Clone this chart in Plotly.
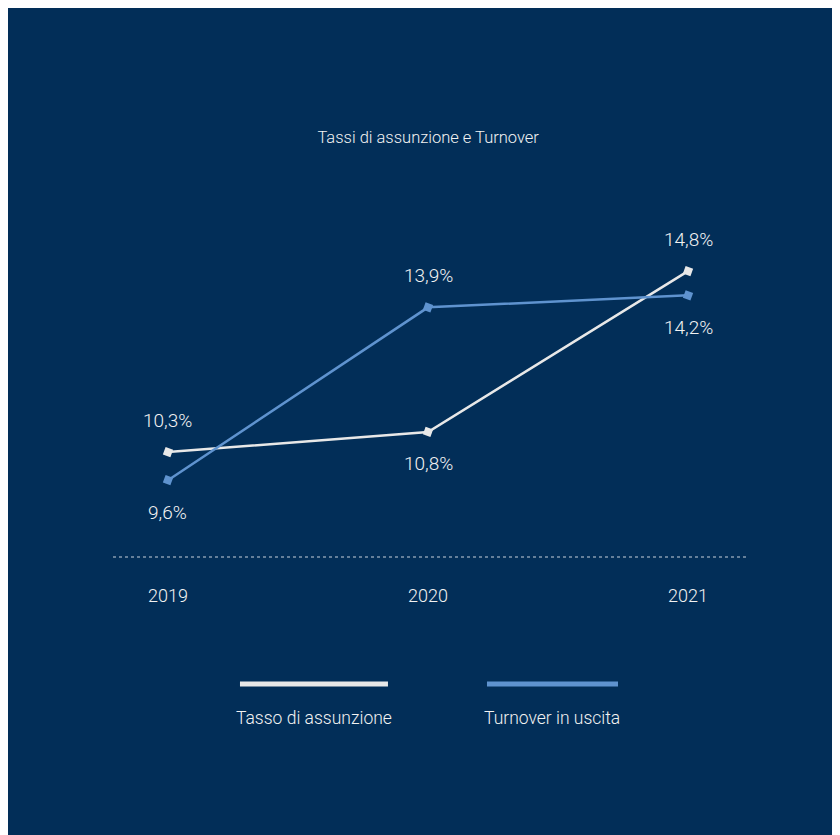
import plotly.graph_objects as go

years = ["2019", "2020", "2021"]
series_names = ["Tasso di assunzione", "Turnover in uscita"]
tasso_assunzione = [10.3, 10.8, 14.8]
turnover_uscita = [9.6, 13.9, 14.2]
title_text = "Tassi di assunzione e Turnover"

BG = "#022E58"
WHITE = "#E8E8E8"
BLUE = "#5F93CF"
FONT = "Roboto, Liberation Sans, sans-serif"
TXT = "#F2F2F2"

def fmt(v):
    return f"{v:.1f}".replace(".", ",") + "%"

fig = go.Figure()
fig.add_trace(go.Scatter(
    x=years, y=tasso_assunzione, mode="lines+markers", name=series_names[0],
    line=dict(color=WHITE, width=2.5),
    marker=dict(symbol="square", size=8, color=WHITE, angle=20),
    showlegend=False, hoverinfo="skip"))
fig.add_trace(go.Scatter(
    x=years, y=turnover_uscita, mode="lines+markers", name=series_names[1],
    line=dict(color=BLUE, width=2.5),
    marker=dict(symbol="square", size=8, color=BLUE, angle=20),
    showlegend=False, hoverinfo="skip"))

annotations = []
# label placement: above the higher series, below the lower series
for i, yr in enumerate(years):
    a, t = tasso_assunzione[i], turnover_uscita[i]
    for v, other in ((a, t), (t, a)):
        shift = 32 if v >= other else -32
        annotations.append(dict(x=i, y=v, xref="x", yref="y", text=fmt(v),
                                showarrow=False, yshift=shift,
                                font=dict(family=FONT, size=19, color=TXT, weight=300)))

# custom legend: line above label
legend_x = [(0.2006, 0.4344), (0.5908, 0.7978)]
legend_colors = [WHITE, BLUE]
shapes = []
for (x0, x1), c, name in zip(legend_x, legend_colors, series_names):
    shapes.append(dict(type="line", xref="paper", yref="paper", x0=x0, x1=x1,
                       y0=-0.3557, y1=-0.3557, line=dict(color=c, width=5)))
    annotations.append(dict(x=(x0 + x1) / 2, y=-0.451, xref="paper", yref="paper",
                            text=name, showarrow=False, xanchor="center", yanchor="middle",
                            font=dict(family=FONT, size=17.5, color=TXT, weight=300)))

# dotted baseline
shapes.append(dict(type="line", xref="paper", yref="paper", x0=0, x1=1, y0=0, y1=0,
                   line=dict(color="#C8D0DA", width=1, dash="dot")))

fig.update_layout(
    width=832, height=827,
    margin=dict(l=105, r=94, t=192, b=278),
    paper_bgcolor=BG, plot_bgcolor=BG,
    title=dict(text=title_text, x=0.505, xanchor="center", y=1 - 129 / 827,
               yanchor="middle", yref="container",
               font=dict(family=FONT, size=16.5, color=TXT, weight=300)),
    xaxis=dict(type="category", range=[-0.2115, 2.223], showgrid=False, zeroline=False,
               showline=False, ticks="outside", ticklen=22, tickcolor="rgba(0,0,0,0)",
               tickfont=dict(family=FONT, size=18, color=TXT, weight=300), fixedrange=True),
    yaxis=dict(range=[7.69, 16.57], showgrid=False, zeroline=False, showline=False,
               showticklabels=False, fixedrange=True),
    shapes=shapes, annotations=annotations,
)

fig.write_html("out.html", config={"displayModeBar": False})
